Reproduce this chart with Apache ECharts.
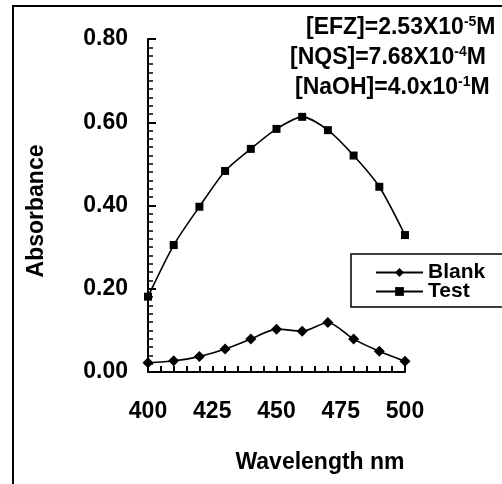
<!DOCTYPE html>
<html>
<head>
<meta charset="utf-8">
<script src="https://cdn.jsdelivr.net/npm/echarts@6/dist/echarts.min.js"></script>
<style>html,body{margin:0;padding:0;background:#fff;}#c{width:502px;height:484px;}</style>
</head>
<body>
<div id="c"></div>
<script>
const wavelengths = [400, 410, 420, 430, 440, 450, 460, 470, 480, 490, 500];
const blank = [0.022, 0.027, 0.037, 0.055, 0.079, 0.103, 0.098, 0.119, 0.079, 0.050, 0.026];
const test = [0.181, 0.305, 0.397, 0.483, 0.536, 0.584, 0.613, 0.581, 0.520, 0.445, 0.329];
const seriesNames = ['Blank', 'Test'];
const xTitle = 'Wavelength nm';
const yTitle = 'Absorbance';
const notes = ['[EFZ]=2.53X10{s|-5}M', '[NQS]=7.68X10{s|-4}M', '[NaOH]=4.0x10{s|-1}M'];

const FONT = 'Liberation Sans, Arial, sans-serif';
const chart = echarts.init(document.getElementById('c'), null, {renderer: 'canvas'});
const pairs = arr => wavelengths.map((w, i) => [w, arr[i]]);

chart.setOption({
  animation: false,
  backgroundColor: '#fff',
  grid: {left: 148, right: 97, top: 39, bottom: 112},
  xAxis: {
    type: 'value', min: 400, max: 500, interval: 5,
    axisLine: {lineStyle: {color: '#000', width: 2}},
    axisTick: {inside: true, length: 6, lineStyle: {color: '#000', width: 2}},
    splitLine: {show: false},
    axisLabel: {
      margin: 28, color: '#000', fontSize: 23, fontWeight: 'bold', fontFamily: FONT,
      formatter: v => (v % 25 === 0 ? String(v) : '')
    }
  },
  yAxis: {
    type: 'value', min: 0, max: 0.8, interval: 0.2,
    axisLine: {show: true, lineStyle: {color: '#000', width: 2}},
    axisTick: {show: true, inside: true, length: 8, lineStyle: {color: '#000', width: 2}},
    minorTick: {show: true, splitNumber: 10, length: 5, lineStyle: {color: '#000', width: 1.5}},
    splitLine: {show: false},
    axisLabel: {
      margin: 20, color: '#000', fontSize: 23, fontWeight: 'bold', fontFamily: FONT,
      formatter: v => v.toFixed(2)
    }
  },
  legend: {
    orient: 'vertical', left: 351, top: 254,
    padding: [8, 60, 5, 24],
    borderColor: '#000', borderWidth: 1.5,
    itemWidth: 47, itemHeight: 11, itemGap: -2,
    textStyle: {color: '#000', fontSize: 21, fontWeight: 'bold', fontFamily: FONT, lineHeight: 18},
    data: seriesNames
  },
  series: [
    {
      name: seriesNames[0], type: 'line', data: pairs(blank), smooth: 0.25,
      symbol: 'diamond', symbolSize: 11,
      lineStyle: {color: '#000', width: 1.6}, itemStyle: {color: '#000'}
    },
    {
      name: seriesNames[1], type: 'line', data: pairs(test), smooth: 0.25,
      symbol: 'rect', symbolSize: 8,
      lineStyle: {color: '#000', width: 1.6}, itemStyle: {color: '#000'}
    }
  ],
  graphic: [
    {type: 'rect', shape: {x: 13, y: 6, width: 600, height: 600}, style: {fill: 'none', stroke: '#000', lineWidth: 2}, silent: true},
    {type: 'text', x: 320, y: 463, style: {text: xTitle, font: 'bold 23px ' + FONT, fill: '#000', align: 'center', verticalAlign: 'middle'}},
    {type: 'text', x: 37, y: 211, rotation: Math.PI / 2, style: {text: yTitle, font: 'bold 23px ' + FONT, fill: '#000', align: 'center', verticalAlign: 'middle'}}
  ].concat(notes.map((t, i) => ({
    type: 'text', x: [306, 290, 295][i], y: 28 + i * 30,
    style: {
      text: t, font: 'bold 23px ' + FONT, fill: '#000', verticalAlign: 'middle',
      rich: {s: {fontSize: 14, fontWeight: 'bold', fontFamily: FONT, verticalAlign: 'top', lineHeight: 25}}
    }
  })))
});
</script>
</body>
</html>
